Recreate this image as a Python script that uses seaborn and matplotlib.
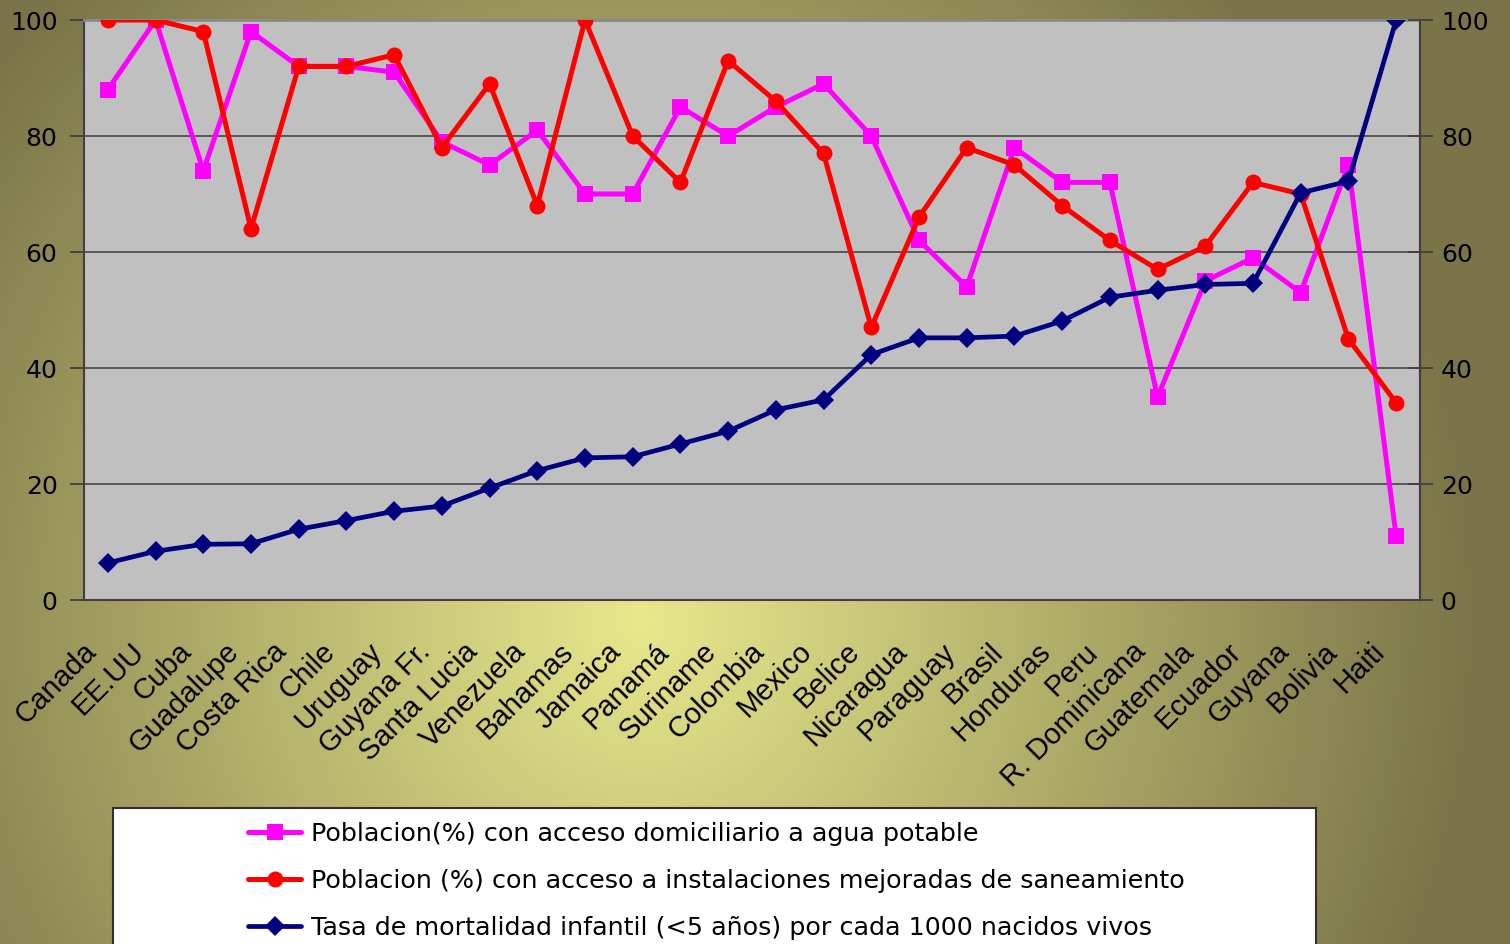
import numpy as np
import matplotlib.pyplot as plt
import matplotlib.transforms as mtransforms
from matplotlib.patches import Rectangle
import seaborn as sns

# ---------------------------------------------------------------
# data
# ---------------------------------------------------------------
paises = ["Canada", "EE.UU", "Cuba", "Guadalupe", "Costa Rica", "Chile",
          "Uruguay", "Guyana Fr.", "Santa Lucia", "Venezuela", "Bahamas",
          "Jamaica", "Panamá", "Suriname", "Colombia", "Mexico", "Belice",
          "Nicaragua", "Paraguay", "Brasil", "Honduras", "Peru",
          "R. Dominicana", "Guatemala", "Ecuador", "Guyana", "Bolivia", "Haiti"]

agua = [88, 100, 74, 98, 92, 92, 91, 79, 75, 81, 70, 70, 85, 80, 85, 89, 80,
        62, 54, 78, 72, 72, 35, 55, 59, 53, 75, 11]

saneamiento = [100, 100, 98, 64, 92, 92, 94, 78, 89, 68, 100, 80, 72, 93, 86,
               77, 47, 66, 78, 75, 68, 62, 57, 61, 72, 70, 45, 34]

mortalidad = [6.4, 8.4, 9.6, 9.7, 12.2, 13.7, 15.3, 16.2, 19.3, 22.3, 24.5,
              24.7, 26.9, 29.1, 32.8, 34.5, 42.3, 45.2, 45.2, 45.5, 48.1,
              52.2, 53.4, 54.4, 54.6, 70.2, 72.2, 100]

series_labels = ["Poblacion(%) con acceso domiciliario a agua potable",
                 "Poblacion (%) con acceso a instalaciones mejoradas de saneamiento",
                 "Tasa de mortalidad infantil (<5 años) por cada 1000 nacidos vivos"]

y_ticks = [0, 20, 40, 60, 80, 100]

# ---------------------------------------------------------------
# figure + gradient background
# ---------------------------------------------------------------
sns.set_style("white")
plt.rcParams["font.family"] = ["DejaVu Sans"]
plt.rcParams["text.color"] = "black"

W, H = 1510, 944
fig = plt.figure(figsize=(W / 100, H / 100), dpi=100)

yy, xx = np.mgrid[0:H, 0:W]
d = np.sqrt(((xx - 640) / 834.0) ** 2 + ((yy - 620) / 873.0) ** 2)
t = np.clip(d, 0, 1)[..., None]
centro = np.array([232, 232, 140]) / 255
borde = np.array([122, 116, 72]) / 255
img = centro * (1 - t) + borde * t

bg = fig.add_axes([0, 0, 1, 1], zorder=-10)
bg.imshow(img, aspect="auto", interpolation="bilinear")
bg.set_axis_off()

# ---------------------------------------------------------------
# main plot
# ---------------------------------------------------------------
ax = fig.add_axes([84 / W, 1 - 600 / H, 1336 / W, 580 / H])
ax.set_facecolor("#C0C0C0")

PINK, RED, NAVY = "#FF00FF", "#FF0000", "#000080"

sns.lineplot(x=paises, y=agua, ax=ax, sort=False, color=PINK, lw=3.6,
             marker="s", ms=11.5, mec=PINK, mfc=PINK, mew=0,
             label=series_labels[0], zorder=3)
sns.lineplot(x=paises, y=saneamiento, ax=ax, sort=False, color=RED, lw=3.6,
             marker="o", ms=11.5, mec=RED, mfc=RED, mew=0,
             label=series_labels[1], zorder=4)
sns.lineplot(x=paises, y=mortalidad, ax=ax, sort=False, color=NAVY, lw=3.4,
             marker="D", ms=10.5, mec=NAVY, mfc=NAVY, mew=0,
             label=series_labels[2], zorder=5)

ax.set_xlim(-0.5, len(paises) - 0.5)
ax.set_ylim(0, 100)
ax.set_yticks(y_ticks)
ax.set_xlabel("")
ax.set_ylabel("")
ax.yaxis.grid(True, color="#505050", lw=1.3)
ax.xaxis.grid(False)
ax.set_axisbelow(True)

for side in ["left", "bottom", "right"]:
    ax.spines[side].set_color("#404040")
    ax.spines[side].set_linewidth(1.5)
ax.spines["top"].set_color("#8A8A8A")
ax.spines["top"].set_linewidth(2)

ax.tick_params(axis="y", direction="out", length=10, width=1.3,
               color="#404040", labelsize=18, labelcolor="black", pad=9)

ax.set_xticks(range(len(paises)))
ax.set_xticklabels(paises, rotation=45, ha="right", va="top",
                   rotation_mode="anchor", fontsize=21,
                   fontfamily="Liberation Sans", color="black")
ax.tick_params(axis="x", length=0, pad=27)
ax.set_xticks(np.arange(-0.5, len(paises), 1), minor=True)
ax.tick_params(axis="x", which="minor", direction="out", length=9,
               width=1.3, color="#404040")
shift = mtransforms.ScaledTranslation(-26 / 100, 0, fig.dpi_scale_trans)
for lbl in ax.get_xticklabels():
    lbl.set_transform(lbl.get_transform() + shift)

ax2 = ax.twinx()
ax2.set_ylim(0, 100)
ax2.set_yticks(y_ticks)
ax2.tick_params(axis="y", direction="inout", length=18, width=1.3,
                color="#404040", labelsize=18, labelcolor="black", pad=6)
for side in ["left", "top", "bottom"]:
    ax2.spines[side].set_visible(False)
ax2.spines["right"].set_color("#404040")
ax2.spines["right"].set_linewidth(1.5)

# ---------------------------------------------------------------
# legend box (runs off the bottom of the image)
# ---------------------------------------------------------------
handles, labels = ax.get_legend_handles_labels()
if ax.get_legend() is not None:
    ax.get_legend().remove()

fig.add_artist(Rectangle((113 / W, -0.05), (1316 - 113) / W, 1 - 808 / H + 0.05,
                         transform=fig.transFigure, facecolor="white",
                         edgecolor="#303030", lw=1.5, zorder=1))
leg = fig.legend(handles, labels, loc="upper left",
                 bbox_to_anchor=(248 / W, 1 - 822 / H), frameon=False,
                 fontsize=18.3, handlelength=2.1, handletextpad=0.36,
                 labelspacing=0.9, borderpad=0, borderaxespad=0)
for txt in leg.get_texts():
    txt.set_color("black")

fig.savefig("out.png", dpi=100)
